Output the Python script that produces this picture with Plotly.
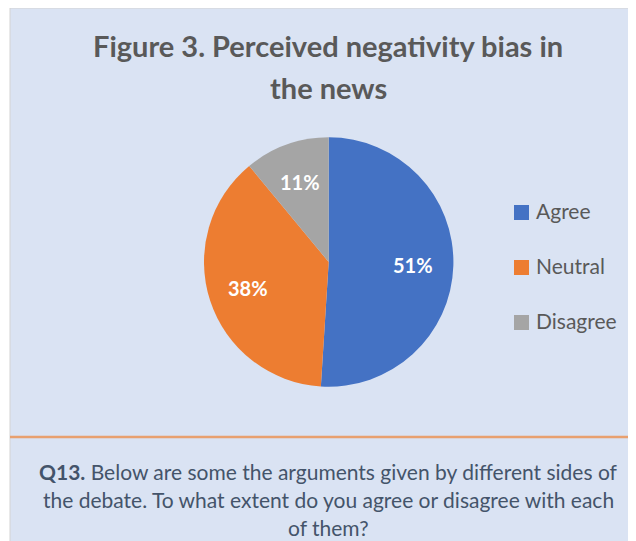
import math
import plotly.graph_objects as go

# ---- data ----
categories = ["Agree", "Neutral", "Disagree"]
values = [51, 38, 11]
colors = ["#4472C4", "#ED7D31", "#A5A5A5"]
title_lines = ["Figure 3. Perceived negativity bias in", "the news"]
caption_lines = [
    "<b>Q13.</b> Below are some the arguments given by different sides of",
    "the debate. To what extent do you agree or disagree with each",
    "of them?",
]

# page is rendered with an 8px body margin; map page pixels to paper coords
OFF = 8
W, H = 636 - OFF, 541 - OFF
FONT = "Lato"


def fx(px):
    return (px - OFF) / W


def fy(py):
    return 1 - (py - OFF) / H


def mid(baseline, size):
    # vertical centre of a text box whose baseline sits at `baseline`
    return baseline - 0.387 * size


# pie geometry (page pixels)
CX, CY, R = 328.7, 262.0, 124.7

fig = go.Figure()
fig.add_trace(go.Pie(
    labels=categories,
    values=values,
    sort=False,
    direction="clockwise",
    rotation=0,
    marker=dict(colors=colors, line=dict(width=0)),
    textinfo="none",
    domain=dict(x=[fx(CX - R), fx(CX + R)], y=[fy(CY + R), fy(CY - R)]),
    showlegend=False,
    hoverinfo="label+percent",
))

shapes = [
    dict(type="rect", xref="paper", yref="paper", x0=fx(10), x1=1.01, y0=-0.01, y1=1,
         fillcolor="#DAE3F3", line=dict(color="#D3D3D3", width=1), layer="below"),
    dict(type="line", xref="paper", yref="paper", x0=fx(10), x1=1, y0=fy(437), y1=fy(437),
         line=dict(color="#E8A06F", width=2.5), layer="below"),
]
annotations = []

# title
for i, line in enumerate(title_lines):
    annotations.append(dict(text="<b>" + line + "</b>", xref="paper", yref="paper",
                            x=fx(328), y=fy(mid(56.7 + 42 * i, 29)),
                            xanchor="center", yanchor="middle", showarrow=False,
                            font=dict(family=FONT, size=29, color="#595959")))

# percentage labels inside slices, placed from the cumulative values
total = sum(values)
cum = 0
for v in values:
    ang = (cum + v / 2) / total * 2 * math.pi
    cum += v
    r = 0.68 * R
    px = CX + r * math.sin(ang)
    py = CY - r * math.cos(ang)
    annotations.append(dict(text="<b>%d%%</b>" % round(100 * v / total), xref="paper", yref="paper",
                            x=fx(px), y=fy(py), xanchor="center", yanchor="middle",
                            showarrow=False, font=dict(family=FONT, size=20, color="white")))

# manual legend
for i, (cat, col) in enumerate(zip(categories, colors)):
    yc = 212.5 + 55 * i
    shapes.append(dict(type="rect", xref="paper", yref="paper",
                       x0=fx(514), x1=fx(529), y0=fy(yc + 7.5), y1=fy(yc - 7.5),
                       fillcolor=col, line=dict(width=0)))
    annotations.append(dict(text=cat, xref="paper", yref="paper", x=fx(533.5),
                            y=fy(mid(218.3 + 55 * i, 21)),
                            xanchor="left", yanchor="middle", showarrow=False,
                            font=dict(family=FONT, size=21, color="#595959")))

# caption
for i, line in enumerate(caption_lines):
    annotations.append(dict(text=line, xref="paper", yref="paper", x=fx(328),
                            y=fy(mid(479.3 + 28 * i, 21)),
                            xanchor="center", yanchor="middle", showarrow=False,
                            font=dict(family=FONT, size=21, color="#44546A")))

fig.update_layout(
    width=W, height=H,
    margin=dict(l=0, r=0, t=0, b=0),
    paper_bgcolor="white",
    plot_bgcolor="white",
    shapes=shapes,
    annotations=annotations,
)

fig.write_html("out.html")
